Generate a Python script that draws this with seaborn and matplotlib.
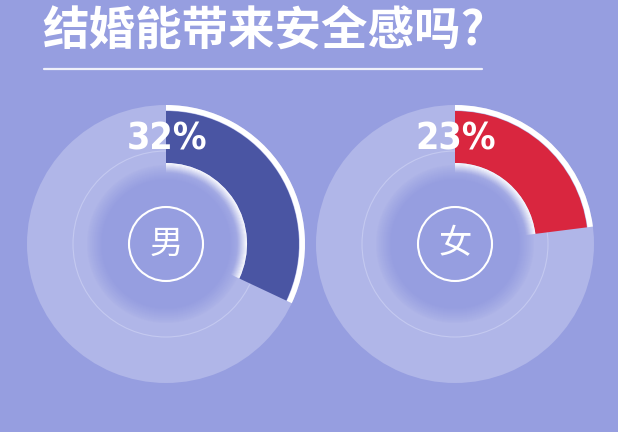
import numpy as np
import matplotlib
matplotlib.use("Agg")
import matplotlib.pyplot as plt
import seaborn as sns
from matplotlib.patches import Circle, Wedge

# data
title = "结婚能带来安全感吗?"
genders = ["男", "女"]
shares = [32, 23]
share_colors = ["#4a55a3", "#d9263f"]

bg = "#969ee0"
ring = "#b0b6e8"

sns.set_theme(style="white")
plt.rcParams["font.family"] = ["Noto Sans CJK SC", "DejaVu Sans"]

W, H = 618, 432
fig = plt.figure(figsize=(W / 100, H / 100), dpi=100)
fig.patch.set_facecolor(bg)

# title + rule
fig.text(263 / W, 1 - 31 / H, title, ha="center", va="center",
         fontsize=33.5, fontweight="heavy", color="white")
fig.add_artist(plt.Line2D([44 / W, 482 / W], [1 - 69 / H, 1 - 69 / H],
                          color="white", lw=1.6, alpha=0.85))


def blend(c1, c2, t):
    a = np.array(matplotlib.colors.to_rgb(c1))
    b = np.array(matplotlib.colors.to_rgb(c2))
    return tuple(a + (b - a) * t)


centers = [(166, 244), (455, 244)]
R = 150
for (cx, cy), g, p, col in zip(centers, genders, shares, share_colors):
    ax = fig.add_axes([(cx - R) / W, (H - cy - R) / H, 2 * R / W, 2 * R / H])
    ax.set_facecolor("none")

    # light background ring
    ax.pie([1], radius=139, colors=[ring], startangle=90,
           wedgeprops=dict(linewidth=0))

    # inner disk with soft inset shade
    ax.add_patch(Circle((0, 0), 93, facecolor=ring, edgecolor="#c4c9f0",
                        lw=0.8, alpha=1))
    steps = 16
    for i in range(steps + 1):
        t = i / steps
        r = 80 - 16 * t
        ax.add_patch(Circle((0, 0), r, facecolor=blend(ring, bg, t ** 0.8),
                            lw=0))

    # share wedge
    ax.pie([p, 100 - p], radius=133, colors=[col, "none"], startangle=90,
           counterclock=False, wedgeprops=dict(width=52, linewidth=0))
    # white outer strip
    ax.pie([p, 100 - p], radius=139, colors=["white", "none"], startangle=90,
           counterclock=False, wedgeprops=dict(width=5.5, linewidth=0))

    # glow inside inner edge of the wedge
    t1 = 90
    t0 = 90 - p / 100 * 360
    for i in range(10):
        ax.add_patch(Wedge((0, 0), 81 - i, t0, t1, width=1.2,
                           facecolor="white", alpha=0.9 * (1 - i / 10) ** 1.5,
                           lw=0))

    # center badge
    ax.add_patch(Circle((0, 0), 37, facecolor="none", edgecolor="white", lw=1.5))
    ax.text(0, 0, g, ha="center", va="center", fontsize=24,
            fontweight="light", color="white")

    ax.text(1, 105, f"{p}%", ha="center", va="center", fontsize=27,
            color="white", family=["DejaVu Sans"], fontweight="bold",
            fontstretch="condensed")

    ax.set_xlim(-R, R)
    ax.set_ylim(-R, R)
    ax.set_aspect("equal")
    ax.axis("off")

fig.savefig("out.png", dpi=100, facecolor=bg)
